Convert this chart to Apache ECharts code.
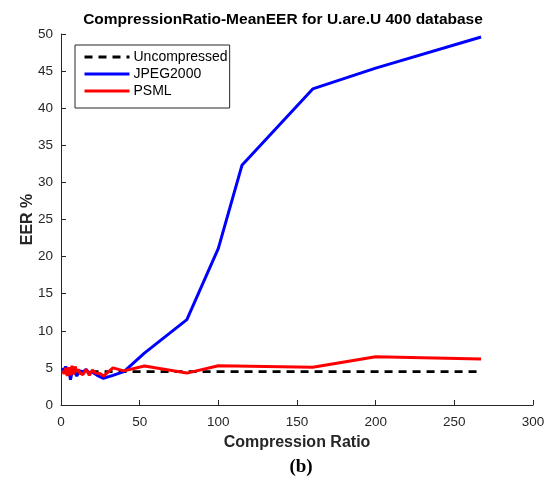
<!DOCTYPE html>
<html><head><meta charset="utf-8">
<script src="https://cdn.jsdelivr.net/npm/echarts@6/dist/echarts.min.js"></script>
<style>html,body{margin:0;padding:0;background:#fff}#c{width:549px;height:480px}</style>
</head><body><div id="c"></div>
<script>
const titleText = 'CompressionRatio-MeanEER for U.are.U 400 database';
const xTicks = [0, 50, 100, 150, 200, 250, 300];
const yTicks = [0, 5, 10, 15, 20, 25, 30, 35, 40, 45, 50];

const uncompX = [1, 267];
const uncompY = [4.5, 4.5];

const jpegX = [1, 2, 3, 4, 5, 6, 7, 8, 10, 12, 14, 16, 18, 20, 23, 27, 33, 40, 53, 80, 100, 115, 160, 200, 267];
const jpegY = [5.0, 4.6, 5.2, 4.2, 4.8, 3.4, 4.4, 4.7, 3.9, 4.6, 4.5, 4.8, 4.3, 4.4, 4.0, 3.6, 4.0, 4.5, 7.0, 11.5, 21.1, 32.3, 42.6, 45.4, 49.6];

const psmlX = [1, 2, 3, 4, 5, 6, 7, 8, 9, 10, 11, 12, 14, 16, 18, 20, 22, 25, 27, 33, 40, 53, 80, 100, 160, 200, 267];
const psmlY = [4.6, 4.2, 5.0, 3.9, 5.1, 4.0, 5.3, 4.1, 5.2, 4.5, 4.8, 4.3, 4.1, 4.8, 4.0, 4.7, 4.3, 4.2, 3.9, 5.0, 4.6, 5.25, 4.3, 5.3, 5.1, 6.5, 6.2];

const zip = (xs, ys) => xs.map((x, i) => [x, ys[i]]);
const axisColor = '#262626';
const font = 'Liberation Sans, Arial, Helvetica, sans-serif';

const chart = echarts.init(document.getElementById('c'), null, {renderer: 'canvas'});
chart.setOption({
  animation: false,
  backgroundColor: '#fff',
  grid: {left: 61, right: 16, top: 34, bottom: 75, containLabel: false},
  graphic: [
    {type: 'text', position: [283, 20], style: {text: titleText, fontFamily: font, fontWeight: 'bold', fontSize: 15.5, fill: '#000', textAlign: 'center', textVerticalAlign: 'middle'}},
    {type: 'text', position: [301, 467], style: {text: '(b)', fontFamily: 'Liberation Serif, Times New Roman, serif', fontWeight: 'bold', fontSize: 19, fill: '#000', textAlign: 'center', textVerticalAlign: 'middle'}}
  ],
  legend: {
    left: 75, top: 45, orient: 'vertical',
    itemWidth: 45, itemHeight: 14, itemGap: 3,
    padding: [5, 2, 10, 8],
    borderColor: axisColor, borderWidth: 1, backgroundColor: '#fff',
    itemStyle: {opacity: 0},
    lineStyle: {width: 3},
    textStyle: {fontFamily: font, fontSize: 14, color: '#000', padding: [0, 0, 0, -1]},
    data: ['Uncompressed', 'JPEG2000', 'PSML']
  },
  xAxis: {
    type: 'value', min: 0, max: 300, interval: 50,
    name: 'Compression Ratio', nameLocation: 'middle', nameGap: 30, nameMoveOverlap: false,
    nameTextStyle: {fontFamily: font, fontWeight: 'bold', fontSize: 16, color: axisColor},
    axisLine: {show: true, lineStyle: {color: axisColor, width: 1}},
    axisTick: {show: true, inside: true, length: 5, lineStyle: {color: axisColor}},
    axisLabel: {fontFamily: font, fontSize: 13.5, color: axisColor, margin: 10, customValues: xTicks},
    splitLine: {show: false}
  },
  yAxis: {
    type: 'value', min: 0, max: 50, interval: 5,
    name: 'EER %', nameLocation: 'middle', nameGap: 25, nameRotate: 90, nameMoveOverlap: false,
    nameTextStyle: {fontFamily: font, fontWeight: 'bold', fontSize: 16, color: axisColor},
    axisLine: {show: true, lineStyle: {color: axisColor, width: 1}},
    axisTick: {show: true, inside: true, length: 5, lineStyle: {color: axisColor}},
    axisLabel: {fontFamily: font, fontSize: 13.5, color: axisColor, margin: 8, customValues: yTicks},
    splitLine: {show: false}
  },
  series: [
    {name: 'Uncompressed', type: 'line', symbol: 'none', data: zip(uncompX, uncompY), z: 3,
     lineStyle: {color: '#000', width: 2.8, type: [8, 6]}, itemStyle: {color: '#000'}},
    {name: 'JPEG2000', type: 'line', symbol: 'none', data: zip(jpegX, jpegY), z: 4,
     lineStyle: {color: '#0000ff', width: 3}, itemStyle: {color: '#0000ff'}},
    {name: 'PSML', type: 'line', symbol: 'none', data: zip(psmlX, psmlY), z: 5,
     lineStyle: {color: '#ff0000', width: 3}, itemStyle: {color: '#ff0000'}}
  ]
});
</script></body></html>
